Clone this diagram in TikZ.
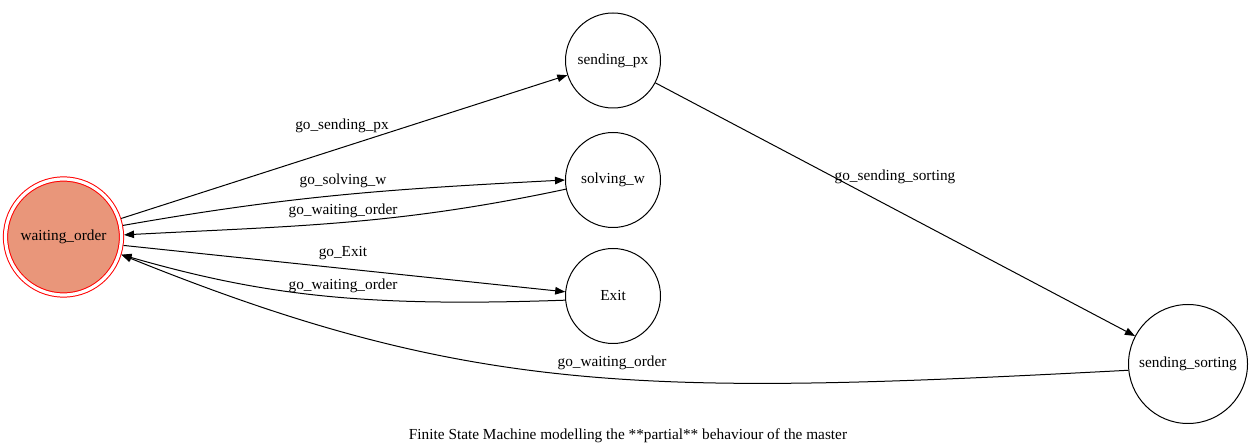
\documentclass[tikz,border=0pt]{standalone}
\usepackage{fontspec}
\setmainfont{Liberation Serif}
\usetikzlibrary{arrows.meta}
\definecolor{startfill}{HTML}{E9967A}
\begin{document}
\begin{tikzpicture}[x=1pt,y=1pt,
  every node/.style={font=\fontsize{15.3}{17}\selectfont},
  state/.style={circle,draw=black,line width=1pt,minimum size=95pt,inner sep=0pt,outer sep=0.5pt},
  initstate/.style={circle,draw=red,fill=startfill,line width=1pt,double=white,
    double distance=3.2pt,minimum size=116pt,inner sep=0pt,outer sep=2.6pt},
  trans/.style={draw=black,line width=1pt,-{Triangle[length=10pt,width=7.5pt]}},
  lbl/.style={inner sep=0pt}]
\useasboundingbox (0,0) rectangle (1252,444);

% states
\node[initstate] (wo) at (63.5,207) {waiting\_order};
\node[state] (px) at (613,383.5) {sending\_px};
\node[state] (sw) at (613,264) {solving\_w};
\node[state] (ex) at (613,148) {Exit};
\node[state,minimum size=119pt] (ss) at (1188,80) {sending\_sorting};

% transitions
\draw[trans] (wo) -- (px);
\draw[trans] (wo.11) to[out=10,in=183] (sw.180);
\draw[trans] (sw.191) to[out=192,in=3] (wo.2);
\draw[trans] (wo.-8) to[out=-6,in=174] (ex.175);
\draw[trans] (ex.185) .. controls +(182:200) and +(-16:150) .. (wo.-17);
\draw[trans] (ss.186) .. controls +(183:480) and +(-22:380) .. (wo.-17);
\draw[trans] (px) -- (ss);

% transition labels
\node[lbl] (l1) at (342,318) {go\_sending\_px};
\node[lbl] (l2) at (343,263) {go\_solving\_w};
\node[lbl] (l3) at (343,233) {go\_waiting\_order};
\node[lbl] (l4) at (343,191) {go\_Exit};
\node[lbl] (l5) at (343,158) {go\_waiting\_order};
\node[lbl] (l6) at (612,81) {go\_waiting\_order};
\node[lbl] (l7) at (895,267) {go\_sending\_sorting};

% caption
\node[lbl] (cap) at (628,8) {Finite State Machine modelling the **partial** behaviour of the master};
\end{tikzpicture}
\end{document}
